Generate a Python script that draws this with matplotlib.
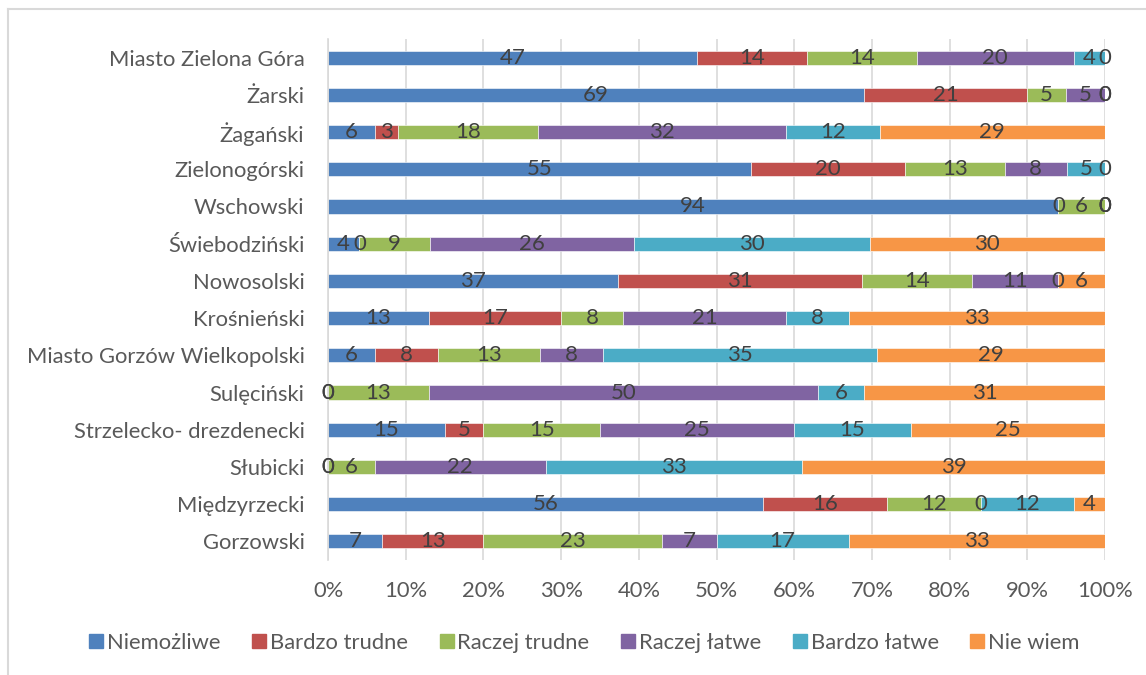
import matplotlib

matplotlib.use("Agg")
import matplotlib.pyplot as plt
import numpy as np
from matplotlib.lines import Line2D

# categories, top to bottom as in the chart
regions = [
    "Miasto Zielona Góra",
    "Żarski",
    "Żagański",
    "Zielonogórski",
    "Wschowski",
    "Świebodziński",
    "Nowosolski",
    "Krośnieński",
    "Miasto Gorzów Wielkopolski",
    "Sulęciński",
    "Strzelecko- drezdenecki",
    "Słubicki",
    "Międzyrzecki",
    "Gorzowski",
]

series_names = ["Niemożliwe", "Bardzo trudne", "Raczej trudne",
                "Raczej łatwe", "Bardzo łatwe", "Nie wiem"]

niemozliwe = [47, 69, 6, 55, 94, 4, 37, 13, 6, 0, 15, 0, 56, 7]
bardzo_trudne = [14, 21, 3, 20, 0, 0, 31, 17, 8, 0, 5, 0, 16, 13]
raczej_trudne = [14, 5, 18, 13, 6, 9, 14, 8, 13, 13, 15, 6, 12, 23]
raczej_latwe = [20, 5, 32, 8, 0, 26, 11, 21, 8, 50, 25, 22, 0, 7]
bardzo_latwe = [4, 0, 12, 5, 0, 30, 0, 8, 35, 6, 15, 33, 12, 17]
nie_wiem = [0, 0, 29, 0, 0, 30, 6, 33, 29, 31, 25, 39, 4, 33]

colors = ["#4F81BD", "#C0504D", "#9BBB59", "#8064A2", "#4BACC6", "#F79646"]

_GRID = "#D9D9D9"
_TEXT = "#595959"
_LABEL = "#404040"
FS = 15.8

plt.rcParams["font.family"] = ["Lato", "DejaVu Sans"]

values = np.array([niemozliwe, bardzo_trudne, raczej_trudne,
                   raczej_latwe, bardzo_latwe, nie_wiem], dtype=float)
shares = values / values.sum(axis=0) * 100  # 100% stacked

fig = plt.figure(figsize=(11.46, 6.75), dpi=100)
ax = fig.add_axes([328 / 1146, 1 - 560 / 675, 777 / 1146, 521 / 675])

y = np.arange(len(regions))
left = np.zeros(len(regions))
for name, share, raw, color in zip(series_names, shares, values, colors):
    ax.barh(y, share, left=left, height=0.38, color=color,
            edgecolor="white", linewidth=0.4, label=name, zorder=2)
    for yi, l, w, v in zip(y, left, share, raw):
        ax.text(l + w / 2, yi, f"{int(v)}", ha="center", va="center",
                color=_LABEL, fontsize=16, zorder=3)
    left += share

ax.set_xlim(0, 100)
ax.set_ylim(len(regions) - 0.5, -0.5)
ax.set_yticks(y)
ax.set_yticklabels(regions)
ax.set_xticks(np.arange(0, 101, 10))
ax.set_xticklabels([f"{t}%" for t in range(0, 101, 10)])
ax.tick_params(axis="x", length=0, pad=15, labelsize=FS, colors=_TEXT)
ax.tick_params(axis="y", length=0, pad=17, labelsize=FS, colors=_TEXT)
ax.grid(axis="x", color=_GRID, linewidth=1.2, zorder=0)
ax.set_axisbelow(True)
for side in ("top", "right", "bottom"):
    ax.spines[side].set_visible(False)
ax.spines["left"].set_color(_GRID)
ax.spines["left"].set_linewidth(1.2)

handles = [Line2D([], [], marker="s", linestyle="", markersize=9.5,
                  markerfacecolor=c, markeredgecolor=c) for c in colors]
leg = fig.legend(handles, series_names, loc="center", ncol=6,
                 bbox_to_anchor=(583 / 1146, 1 - 643 / 675), frameon=False,
                 fontsize=FS, handletextpad=0.05, columnspacing=1.3,
                 handlelength=0.9)
for t in leg.get_texts():
    t.set_color(_TEXT)

# chart frame (only top and left edges are visible in the crop)
fig.add_artist(Line2D([8 / 1146, 1], [1 - 9 / 675, 1 - 9 / 675],
                      color=_GRID, linewidth=1.5, transform=fig.transFigure))
fig.add_artist(Line2D([8 / 1146, 8 / 1146], [0, 1 - 9 / 675],
                      color=_GRID, linewidth=1.5, transform=fig.transFigure))

fig.savefig("out.png", dpi=100, facecolor="white")
